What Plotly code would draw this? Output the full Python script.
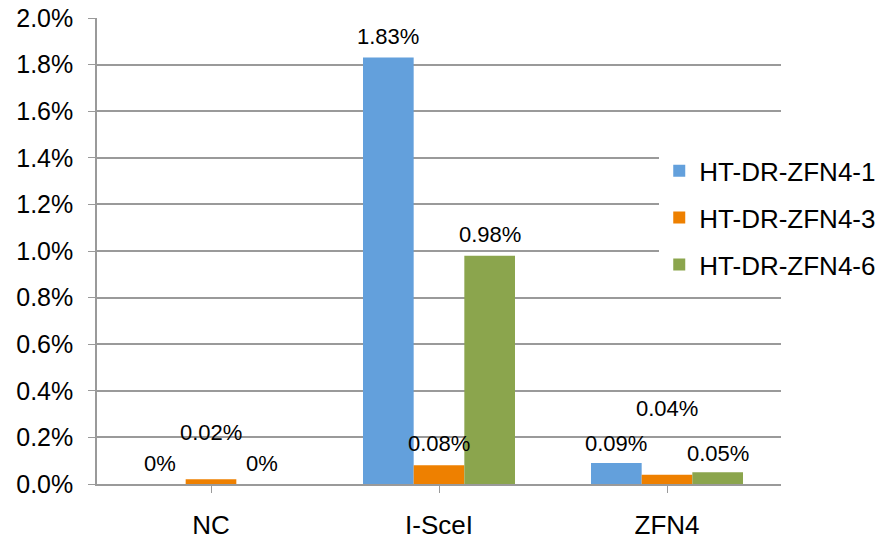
import plotly.graph_objects as go

# Targeted integration frequency per construct and reporter clone
categories = ["NC", "I-SceI", "ZFN4"]
series_names = ["HT-DR-ZFN4-1", "HT-DR-ZFN4-3", "HT-DR-ZFN4-6"]
clone1 = [0.0000, 0.0183, 0.0009]
clone3 = [0.0002, 0.0008, 0.0004]
clone6 = [0.0000, 0.0098, 0.0005]
label_text = [
    ["0%", "1.83%", "0.09%"],
    ["0.02%", "0.08%", "0.04%"],
    ["0%", "0.98%", "0.05%"],
]

colors = ["#63A0DC", "#EE8000", "#8BA54D"]
series_values = [clone1, clone3, clone6]

# vertical placement of each value label above its bar (pixels)
label_lift = [
    [21, 21, 20],
    [47, 22, 66],
    [21, 21, 19],
]

FONT = "Liberation Sans, Arial, sans-serif"
BARGAP = 1 / 3
bar_w = (1 - BARGAP) / len(series_names)

fig = go.Figure()
for i, (name, vals) in enumerate(zip(series_names, series_values)):
    fig.add_trace(go.Bar(
        x=list(range(len(categories))),
        y=vals,
        name=name,
        legendgroup=name,
        marker=dict(color=colors[i], line=dict(width=0)),
    ))
    for j, v in enumerate(vals):
        fig.add_annotation(
            x=j + (i - 1) * bar_w, y=v, xref="x", yref="y",
            text=label_text[i][j], showarrow=False,
            yshift=label_lift[i][j], yanchor="middle",
            font=dict(family=FONT, size=22, color="#000000"),
        )

fig.update_layout(
    width=883, height=543,
    margin=dict(l=97, r=102, t=18, b=59, autoexpand=False),
    paper_bgcolor="white", plot_bgcolor="white",
    barmode="group", bargap=BARGAP, bargroupgap=0,
    font=dict(family=FONT, size=25, color="#000000"),
    showlegend=True,
    legend=dict(
        x=0.822, y=0.571, xanchor="left", yanchor="middle",
        bgcolor="white", borderwidth=0,
        font=dict(family=FONT, size=26, color="#000000"),
        tracegroupgap=10, traceorder="grouped",
    ),
    xaxis=dict(
        range=[-0.5, 2.5], automargin=False,
        tickmode="array", tickvals=list(range(len(categories))), ticktext=categories,
        tickson="boundaries", ticks="outside", ticklen=7, tickcolor="#9A9A9A",
        showline=True, linecolor="#9A9A9A", linewidth=1.5,
        showgrid=False, zeroline=False,
        ticklabelstandoff=10,
        tickfont=dict(family=FONT, size=26),
    ),
    yaxis=dict(
        range=[0, 0.02], dtick=0.002, tickformat=".1%", automargin=False,
        ticks="outside", ticklen=7, tickcolor="#9A9A9A",
        showline=True, linecolor="#9A9A9A", linewidth=1.5,
        showgrid=True, gridcolor="#9A9A9A", gridwidth=1.5,
        zeroline=False,
        ticklabelstandoff=10,
        tickfont=dict(family=FONT, size=25),
    ),
)

fig.write_html("out.html")
